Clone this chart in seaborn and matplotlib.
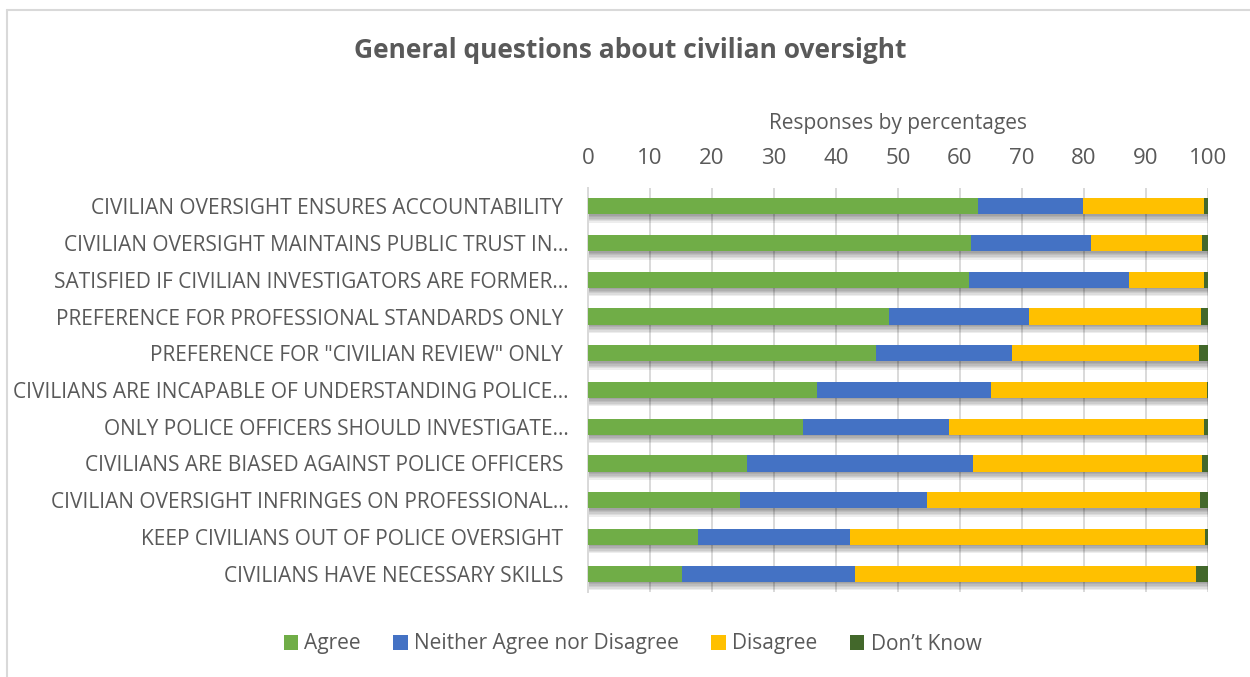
import matplotlib
matplotlib.use("Agg")
import matplotlib.pyplot as plt
import matplotlib.patheffects as pe
from matplotlib.patches import Patch
from matplotlib.lines import Line2D
import numpy as np
import pandas as pd
import seaborn as sns

# Survey statements (top to bottom) and response shares in percent
questions = [
    "CIVILIAN OVERSIGHT ENSURES ACCOUNTABILITY ",
    "CIVILIAN OVERSIGHT MAINTAINS PUBLIC TRUST IN…",
    "SATISFIED IF CIVILIAN INVESTIGATORS ARE FORMER…",
    "PREFERENCE FOR PROFESSIONAL STANDARDS ONLY ",
    "PREFERENCE FOR \"CIVILIAN REVIEW\" ONLY ",
    "CIVILIANS ARE INCAPABLE OF UNDERSTANDING POLICE…",
    "ONLY POLICE OFFICERS SHOULD INVESTIGATE…",
    "CIVILIANS ARE BIASED AGAINST POLICE OFFICERS ",
    "CIVILIAN OVERSIGHT INFRINGES ON PROFESSIONAL…",
    "KEEP CIVILIANS OUT OF POLICE OVERSIGHT ",
    "CIVILIANS HAVE NECESSARY SKILLS ",
]
agree = [62.9, 61.7, 61.4, 48.6, 46.4, 36.9, 34.6, 25.6, 24.5, 17.7, 15.1]
neither = [16.9, 19.4, 25.8, 22.5, 22.0, 28.1, 23.7, 36.5, 30.1, 24.6, 27.9]
disagree = [19.5, 17.9, 12.1, 27.8, 30.1, 34.8, 41.0, 36.9, 44.1, 57.2, 55.1]
dont_know = [0.7, 1.0, 0.8, 1.2, 1.5, 0.3, 0.9, 1.0, 1.3, 0.5, 1.9]

series_names = ["Agree", "Neither Agree nor Disagree", "Disagree", "Don\u2019t Know"]
series_colors = ["#70AD47", "#4472C4", "#FFC000", "#43682B"]
x_ticks = [0, 10, 20, 30, 40, 50, 60, 70, 80, 90, 100]

TEXT = "#595959"
GRID = "#D9D9D9"

sns.set_theme(style="white")
plt.rcParams["font.family"] = ["Open Sans", "DejaVu Sans"]

df = pd.DataFrame({
    "question": questions,
    "Agree": agree,
    "Neither": neither,
    "Disagree": disagree,
    "DontKnow": dont_know,
})
# cumulative ends of each stacked segment
df["c1"] = df["Agree"]
df["c2"] = df["c1"] + df["Neither"]
df["c3"] = df["c2"] + df["Disagree"]
df["c4"] = df["c3"] + df["DontKnow"]

fig = plt.figure(figsize=(12.5, 6.77), dpi=100)
ax = fig.add_axes([588 / 1250, 1 - 592 / 677, 620 / 1250, 404 / 677])

bar_w = 0.44
# longest (full) bars first, then shorter cumulative bars drawn on top
for col, color in zip(["c4", "c3", "c2", "c1"], series_colors[::-1]):
    n_before = len(ax.patches)
    sns.barplot(data=df, x=col, y="question", orient="h", color=color,
                saturation=1, width=bar_w, ax=ax, zorder=3)
    if col == "c4":
        shadow = [pe.SimplePatchShadow(offset=(1, -k), shadow_rgbFace="black", alpha=0.07)
                  for k in range(1, 7)]
        for p in ax.patches[n_before:]:
            p.set_path_effects(shadow + [pe.Normal()])
    for p in ax.patches[n_before:]:
        p.set_edgecolor("none")

ax.set_xlim(0, 100)
ax.set_ylim(len(questions) - 0.5, -0.5)
ax.set_xticks(x_ticks)
ax.xaxis.tick_top()
ax.xaxis.set_label_position("top")
ax.set_xlabel("Responses by percentages", fontsize=15, color=TEXT, labelpad=13)
ax.set_ylabel("")
ax.tick_params(axis="x", length=0, labelsize=16, colors=TEXT, pad=14)
ax.tick_params(axis="y", length=0, labelsize=15, colors=TEXT, pad=14)
ax.grid(axis="x", color=GRID, linewidth=1.4, zorder=0)
ax.set_axisbelow(True)
for side in ["top", "right", "bottom"]:
    ax.spines[side].set_visible(False)
ax.spines["left"].set_color(GRID)
ax.spines["left"].set_linewidth(1.4)

fig.text(0.504, 1 - 51 / 677, "General questions about civilian oversight",
         ha="center", va="center", fontsize=19, fontweight="bold", color=TEXT)

handles = [Patch(facecolor=c, edgecolor="none") for c in series_colors]
fig.legend(handles, series_names, loc="center", bbox_to_anchor=(0.506, 1 - 644 / 677),
           ncol=4, frameon=False, fontsize=15, handlelength=0.7, handleheight=0.7,
           handletextpad=0.3, columnspacing=1.55, labelcolor=TEXT)

# chart frame edges
fig.add_artist(Line2D([7 / 1250, 1.0], [1 - 10 / 677, 1 - 10 / 677],
                      color=GRID, linewidth=1.5, transform=fig.transFigure))
fig.add_artist(Line2D([7 / 1250, 7 / 1250], [0.0, 1 - 10 / 677],
                      color=GRID, linewidth=1.5, transform=fig.transFigure))

fig.savefig("out.png", dpi=100, facecolor="white")
